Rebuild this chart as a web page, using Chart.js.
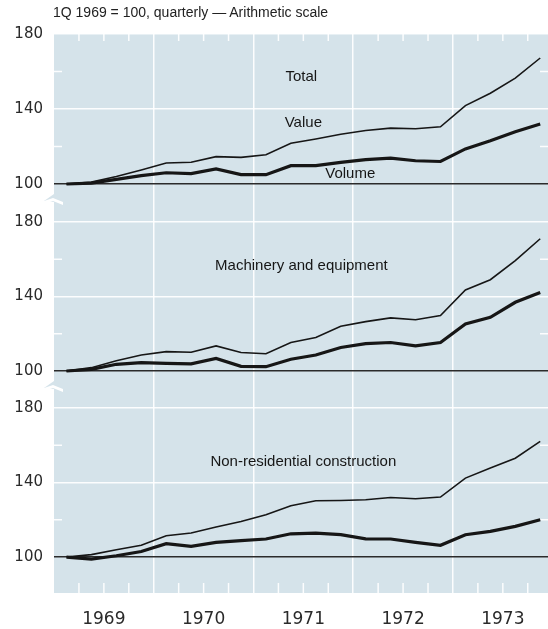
<!DOCTYPE html>
<html>
<head>
<meta charset="utf-8">
<script src="https://cdn.jsdelivr.net/npm/chart.js@4.4.0/dist/chart.umd.min.js"></script>
<style>
  body { margin: 0; background: #fff; }
  #wrap { position: relative; width: 548px; height: 629px; overflow: hidden; }
  #wrap canvas { position: absolute; left: 0; top: 0; }
  #note { position: absolute; left: 53px; top: 4px; font: 14px "Liberation Sans", Arial, sans-serif; color: #222; white-space: nowrap; }
</style>
</head>
<body>
<div id="wrap">
  <canvas id="c1" width="548" height="629"></canvas>
  <canvas id="c2" width="548" height="629"></canvas>
  <canvas id="c3" width="548" height="629"></canvas>
  <div id="note">1Q 1969 = 100, quarterly — Arithmetic scale</div>
</div>
<script>
const years = [1969, 1970, 1971, 1972, 1973];
const quarterNames = ["1Q", "2Q", "3Q", "4Q"];
const yTicks = [100, 140, 180];
const minorTicks = [120, 160];

const totalValue = [100, 101, 104, 107.5, 111.2, 111.6, 114.6, 114.2, 115.6, 121.7, 124, 126.5, 128.5, 129.8, 129.5, 130.5, 141.8, 148.4, 156.5, 167.2];
const totalVolume = [100, 100.5, 102.5, 104.5, 106, 105.5, 108, 105, 105, 109.8, 109.8, 111.5, 113, 113.8, 112.4, 112, 118.7, 123.1, 127.9, 132];
const machValue = [100, 101.8, 105.5, 108.6, 110.4, 110.1, 113.5, 109.9, 109.3, 115.3, 118, 124, 126.5, 128.5, 127.5, 129.8, 143.5, 149, 159.3, 171];
const machVolume = [100, 100.9, 103.6, 104.5, 104.1, 103.8, 106.7, 102.5, 102.3, 106.3, 108.6, 112.6, 114.7, 115.3, 113.5, 115.3, 125.2, 128.8, 136.9, 142.2];
const constrValue = [100, 101.3, 103.9, 106.3, 111.4, 112.9, 116.1, 119.1, 122.7, 127.5, 130.2, 130.4, 130.8, 132, 131.3, 132.2, 142.4, 147.8, 153.1, 162.1];
const constrVolume = [100, 98.9, 100.7, 103, 107.2, 105.7, 107.9, 108.8, 109.7, 112.5, 112.9, 112, 109.8, 109.7, 107.9, 106.3, 112, 113.8, 116.5, 120];

// quarterly points sit in the middle of each quarter
const quarters = years.flatMap(y => quarterNames.map((q, i) => y + (i + 0.5) / 4));
const quarterEdges = years.flatMap(y => [y + 0.25, y + 0.5, y + 0.75]);

const BG = "#d5e3ea";
const GRID = "rgba(255,255,255,0.92)";
const INK = "#161616";
const AXIS_FONT = "'DejaVu Sans', sans-serif";

const panelBg = {
  id: "panelBg",
  beforeDraw(chart) {
    const a = chart.chartArea, ctx = chart.ctx;
    ctx.save();
    ctx.fillStyle = BG;
    ctx.fillRect(a.left, a.top, a.right - a.left, a.bottom - a.top);
    ctx.restore();
  }
};

const marks = {
  id: "marks",
  beforeDatasetsDraw(chart, args, opts) {
    const a = chart.chartArea, ctx = chart.ctx;
    const x = chart.scales.x, y = chart.scales.y;
    ctx.save();
    ctx.strokeStyle = GRID;
    ctx.lineWidth = 1.5;
    ctx.beginPath();
    minorTicks.forEach(v => {
      const py = y.getPixelForValue(v);
      ctx.moveTo(a.left, py); ctx.lineTo(a.left + 8, py);
      ctx.moveTo(a.right - 8, py); ctx.lineTo(a.right, py);
    });
    quarterEdges.forEach(v => {
      const px = x.getPixelForValue(v);
      if (px > a.right) return;
      if (opts.top) { ctx.moveTo(px, a.top); ctx.lineTo(px, a.top + 7); }
      if (opts.bottom) { ctx.moveTo(px, a.bottom); ctx.lineTo(px, a.bottom - 10); }
    });
    ctx.stroke();
    if (opts.brk) {
      const t = a.top, l = a.left;
      ctx.fillStyle = BG;
      ctx.beginPath();
      ctx.moveTo(l - 10, t - 2); ctx.lineTo(l, t - 9); ctx.lineTo(l, t - 1);
      ctx.closePath(); ctx.fill();
      ctx.fillStyle = "#fff";
      ctx.beginPath();
      ctx.moveTo(l - 10, t - 2); ctx.lineTo(l - 1, t - 5); ctx.lineTo(l + 9, t - 1);
      ctx.lineTo(l + 9, t + 2); ctx.lineTo(l - 1, t - 2); ctx.lineTo(l - 10, t + 1);
      ctx.closePath(); ctx.fill();
    }
    ctx.restore();
  }
};

const labels = {
  id: "labels",
  afterDatasetsDraw(chart, args, opts) {
    const ctx = chart.ctx, x = chart.scales.x, y = chart.scales.y;
    ctx.save();
    ctx.fillStyle = INK;
    ctx.font = "15px 'Liberation Sans', Arial, sans-serif";
    ctx.textAlign = "center";
    ctx.textBaseline = "middle";
    (opts.items || []).forEach(it => {
      ctx.fillText(it.text, x.getPixelForValue(it.x), y.getPixelForValue(it.y));
    });
    ctx.restore();
  }
};

function line(data, width) {
  return {
    data: data.map((v, i) => ({ x: quarters[i], y: v })),
    borderColor: INK,
    borderWidth: width,
    pointRadius: 0,
    tension: 0,
    fill: false
  };
}

function makeChart(id, p) {
  return new Chart(document.getElementById(id), {
    type: "line",
    data: { datasets: [line(p.value, 1.6), line(p.volume, 3.2)] },
    options: {
      responsive: false,
      animation: false,
      events: [],
      layout: { padding: { top: p.top, bottom: p.bottom, left: 0, right: 0 } },
      plugins: {
        legend: { display: false },
        tooltip: { enabled: false },
        marks: { top: p.topTicks, bottom: p.bottomTicks, brk: p.brk },
        labels: { items: p.items }
      },
      scales: {
        x: {
          type: "linear",
          min: 1969,
          max: 1973.953,
          afterBuildTicks: s => {
            s.ticks = years.flatMap(y => [{ value: y }, { value: y + 0.5 }]);
          },
          afterFit: s => { s.height = p.showYears ? 36 : 0; },
          border: { display: false },
          grid: {
            drawTicks: false,
            lineWidth: 1.5,
            color: c => (c.tick && Number.isInteger(c.tick.value) && c.tick.value > 1969 ? GRID : "rgba(0,0,0,0)")
          },
          ticks: {
            display: p.showYears,
            autoSkip: false,
            maxRotation: 0,
            padding: 16,
            color: "#2a2a2a",
            font: { family: AXIS_FONT, size: 17 },
            callback: v => (v % 1 === 0.5 ? String(Math.floor(v)) : "")
          }
        },
        y: {
          min: p.min,
          max: p.max,
          afterBuildTicks: s => { s.ticks = yTicks.map(v => ({ value: v })); },
          afterFit: s => { s.width = 54; },
          border: { display: false },
          grid: {
            drawTicks: false,
            lineWidth: 1.5,
            color: c => (c.tick && c.tick.value === 100 ? "#2b2b2b" : GRID)
          },
          ticks: {
            padding: 11,
            color: "#2a2a2a",
            font: { family: AXIS_FONT, size: 15 }
          }
        }
      }
    },
    plugins: [panelBg, marks, labels]
  });
}

makeChart("c1", {
  value: totalValue, volume: totalVolume,
  top: 34, bottom: 629 - 203, min: 89.87, max: 180,
  topTicks: true, bottomTicks: false, brk: false, showYears: false,
  items: [
    { text: "Total", x: 1971.48, y: 157 },
    { text: "Value", x: 1971.5, y: 132.5 },
    { text: "Volume", x: 1971.97, y: 105.4 }
  ]
});

makeChart("c2", {
  value: machValue, volume: machVolume,
  top: 203, bottom: 629 - 390, min: 89.8, max: 190.2,
  topTicks: false, bottomTicks: false, brk: true, showYears: false,
  items: [{ text: "Machinery and equipment", x: 1971.48, y: 156.5 }]
});

makeChart("c3", {
  value: constrValue, volume: constrVolume,
  top: 390, bottom: 0, min: 80.7, max: 189.7,
  topTicks: false, bottomTicks: true, brk: true, showYears: true,
  items: [{ text: "Non-residential construction", x: 1971.5, y: 151.2 }]
});
</script>
</body>
</html>
